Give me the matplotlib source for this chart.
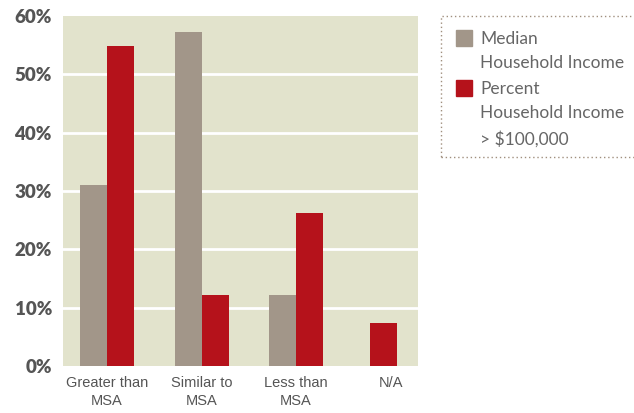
import numpy as np
import matplotlib.pyplot as plt
from matplotlib.patches import Rectangle

categories = ['Greater than\nMSA', 'Similar to\nMSA', 'Less than\nMSA', 'N/A']
median_income = [31.0, 57.2, 12.2, 0.0]
pct_over_100k = [54.9, 12.2, 26.3, 7.3]
yticks = [0, 10, 20, 30, 40, 50, 60]

grey = '#a29689'
red = '#b5121b'
bg = '#e2e3cc'
txt = '#555555'

fig = plt.figure(figsize=(6.34, 4.13), dpi=100)
ax = fig.add_axes([63/634, 47/413, 355/634, 350/413])
ax.set_facecolor(bg)

x = np.arange(len(categories))
w = 0.286
for i in range(len(categories)):
    if median_income[i] > 0:
        ax.bar(x[i] - w/2, median_income[i], w, color=grey, zorder=3)
        ax.bar(x[i] + w/2, pct_over_100k[i], w, color=red, zorder=3)
    else:
        ax.bar(x[i] - 0.07, pct_over_100k[i], w, color=red, zorder=3)

ax.set_xlim(-0.466, 3.29)
ax.set_ylim(0, 60)
ax.set_yticks(yticks)
ax.set_yticklabels([f'{v}%' for v in yticks], fontsize=13.5, fontweight='heavy',
                   color=txt, family='Lato')
ax.set_xticks(x)
ax.set_xticklabels(categories, fontsize=10.5, color=txt,
                   family='Liberation Sans', linespacing=1.35)
ax.tick_params(length=0, pad=7)
ax.tick_params(axis='y', pad=8)
for s in ax.spines.values():
    s.set_visible(False)
for v in yticks[1:-1]:
    ax.axhline(v, color='white', lw=2, zorder=1)

# legend box
box = Rectangle((441/634, 1 - 157/413), 200/634, 141/413, transform=fig.transFigure,
                fill=False, ec='#a08f7e', ls=(0, (1, 2)), lw=1)
fig.patches.append(box)
fig.patches.append(Rectangle((456/634, 1 - 46/413), 16/634, 16/413,
                             transform=fig.transFigure, color=grey))
fig.patches.append(Rectangle((456/634, 1 - 96/413), 16/634, 16/413,
                             transform=fig.transFigure, color=red))
fig.text(480/634, 1 - 31/413, 'Median\nHousehold Income', fontsize=12.5, color='#666666',
         family='Lato', va='top', linespacing=1.65)
fig.text(480/634, 1 - 81/413, 'Percent\nHousehold Income\n> $100,000', fontsize=12.5,
         color='#666666', family='Lato', va='top', linespacing=1.65)

fig.savefig('out.png', dpi=100)
